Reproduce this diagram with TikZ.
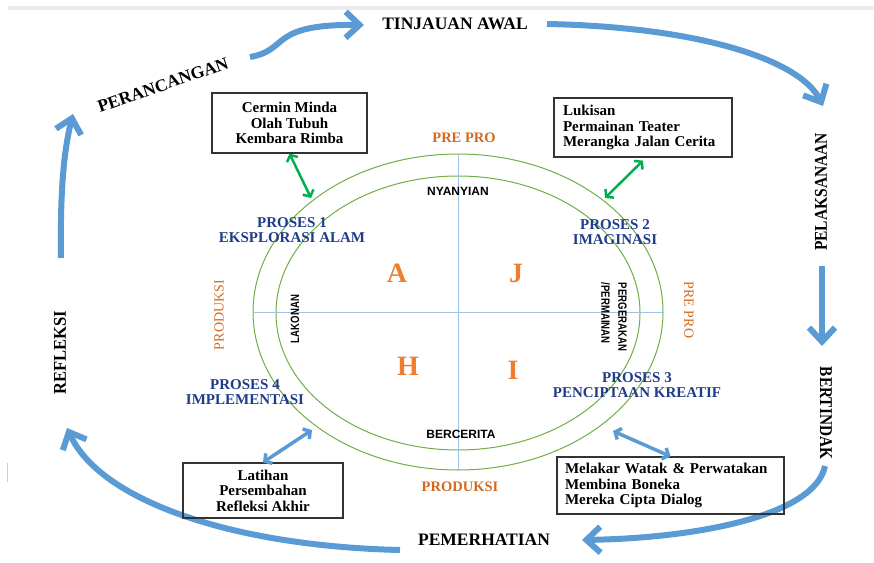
\documentclass[tikz,border=0pt]{standalone}
\usepackage{graphicx}
\usepackage{fontspec}
\setmainfont{Liberation Serif}
\newfontfamily\sansfont{Liberation Sans}
\usetikzlibrary{arrows.meta,shapes.geometric}
\definecolor{cycleblue}{HTML}{5B9BD5}
\definecolor{ringgreen}{HTML}{70AD47}
\definecolor{linkgreen}{HTML}{00B050}
\definecolor{crossblue}{HTML}{9DC3E6}
\definecolor{phaseorange}{HTML}{D2691E}
\definecolor{letterorange}{HTML}{ED7D31}
\definecolor{prosesblue}{HTML}{1F3C88}
\begin{document}
\begin{tikzpicture}[x=1pt,y=-1pt,
    stage/.style={font=\fontsize{17.5}{20}\selectfont\bfseries},
    sidestage/.style={font=\fontsize{18}{20}\selectfont\bfseries},
    cyclearrow/.style={draw=cycleblue,line width=6pt,-{Straight Barb[length=14pt,width=26pt]}},
    prosestext/.style={text=prosesblue,font=\fontsize{15}{15.5}\selectfont\bfseries,align=center},
    phase/.style={text=phaseorange,font=\fontsize{14}{16}\selectfont},
    activity/.style={font=\sansfont\bfseries\fontsize{12}{17}\selectfont},
    letter/.style={text=letterorange,font=\fontsize{28}{30}\selectfont\bfseries},
    infobox/.style={draw=black!80,line width=1.2pt,font=\fontsize{15}{15.5}\selectfont\bfseries},
    link/.style={line width=2.5pt,{Straight Barb[length=5pt,width=12pt]}-{Straight Barb[length=5pt,width=12pt]}},
]
\useasboundingbox (0,0) rectangle (874,562);
% page marks
\fill[black!8] (8,6) rectangle (874,10);
\draw[black!20] (7,463) -- (7,482);

% rings and cross
\node[draw=ringgreen,line width=1pt,ellipse,minimum width=410pt,minimum height=316pt] (outer) at (458,312) {};
\node[draw=ringgreen,line width=1pt,ellipse,minimum width=364pt,minimum height=274pt] (inner) at (458,313) {};
\draw[crossblue,line width=1pt] (outer.north) -- (outer.south);
\draw[crossblue,line width=1pt] (outer.west) -- (outer.east);

% cycle
\node[stage] (tinjauan) at (455,24) {TINJAUAN AWAL};
\node[stage,rotate=19] (perancangan) at (163,85) {PERANCANGAN};
\node[sidestage,rotate=90] (pelaksanaan) at (821,192) {\scalebox{0.86}[1]{PELAKSANAAN}};
\node[sidestage,rotate=-90] (bertindak) at (826,413) {\scalebox{0.85}[1]{BERTINDAK}};
\node[stage] (pemerhatian) at (484,540) {PEMERHATIAN};
\node[sidestage,rotate=90] (refleksi) at (60,353) {\scalebox{0.92}[1]{REFLEKSI}};

\coordinate (a1s) at (250,57);  \coordinate (a1e) at (364,25);
\coordinate (a2s) at (547,24);  \coordinate (a2e) at (823,106);
\coordinate (a3s) at (822,266); \coordinate (a3e) at (822,346);
\coordinate (a4s) at (825,466); \coordinate (a4e) at (582,540);
\coordinate (a5s) at (400,550); \coordinate (a5e) at (67,428);
\coordinate (a6s) at (61,258);  \coordinate (a6e) at (73,114);
\draw[cyclearrow] (a1s) .. controls (290,50) and (268,24) .. (a1e);
\draw[cyclearrow] (a2s) .. controls (700,27) and (800,60) .. (a2e);
\draw[cyclearrow] (a3s) -- (a3e);
\draw[cyclearrow] (a4s) .. controls (815,515) and (700,538) .. (a4e);
\draw[cyclearrow] (a5s) .. controls (230,546) and (100,500) .. (a5e);
\draw[cyclearrow] (a6s) .. controls (60,190) and (64,150) .. (a6e);

% phases
\node[phase,font=\fontsize{14.5}{16}\selectfont\bfseries] (preprotop) at (464,138) {PRE PRO};
\node[phase,rotate=-90] (preproright) at (689,310) {PRE PRO};
\node[phase,rotate=90] (produksileft) at (219,315) {PRODUKSI};
\node[phase,font=\fontsize{14.5}{16}\selectfont\bfseries] (produksibottom) at (460,487) {PRODUKSI};

% activities
\node[activity] (nyanyian) at (458,191) {NYANYIAN};
\node[activity] (bercerita) at (461,434) {BERCERITA};
\node[activity,rotate=90] (lakonan) at (295,319) {\scalebox{0.8}[1]{LAKONAN}};
\node[activity,rotate=-90,align=left] (pergerakan) at (614,317) {\scalebox{0.8}[1]{PERGERAKAN}\\\scalebox{0.8}[1]{/PERMAINAN}};

% letters
\node[letter] (lettera) at (397,273) {A};
\node[letter] (letterj) at (516,273) {J};
\node[letter] (letterh) at (408,366) {H};
\node[letter] (letteri) at (513,370) {I};

% proses
\node[prosestext] (proses1) at (292,230) {PROSES 1\\EKSPLORASI ALAM};
\node[prosestext] (proses2) at (615,232) {PROSES 2\\IMAGINASI};
\node[prosestext] (proses3) at (637,385) {PROSES 3\\PENCIPTAAN KREATIF};
\node[prosestext] (proses4) at (245,392) {PROSES 4\\IMPLEMENTASI};

% boxes
\node[infobox,align=center,minimum width=155pt,minimum height=60pt] (cermin) at (289.5,123) {Cermin Minda\\Olah Tubuh\\Kembara Rimba};
\node[infobox,align=left,text width=160pt,inner xsep=9pt,minimum height=59pt] (lukisan) at (643,127.5) {Lukisan\\Permainan Teater\\Merangka Jalan Cerita};
\node[infobox,align=center,minimum width=160pt,minimum height=55pt] (latihan) at (263,490.5) {Latihan\\Persembahan\\Refleksi Akhir};
\node[infobox,align=left,text width=211pt,inner xsep=8pt,minimum height=57pt] (melakar) at (670.5,485.5) {Melakar Watak \& Perwatakan\\Membina Boneka\\Mereka Cipta Dialog};

% links
\coordinate (l1) at (311,198);
\coordinate (l2) at (605,198);
\coordinate (l3) at (312,430);
\coordinate (l4) at (613,431);
\draw[link,linkgreen] (cermin.south) -- (l1);
\draw[link,linkgreen] ([yshift=-3pt]lukisan.south) -- (l2);
\draw[link,cycleblue,line width=3.5pt] (latihan.north) -- (l3);
\draw[link,cycleblue,line width=3.5pt] (l4) -- (melakar.north);
\end{tikzpicture}
\end{document}
